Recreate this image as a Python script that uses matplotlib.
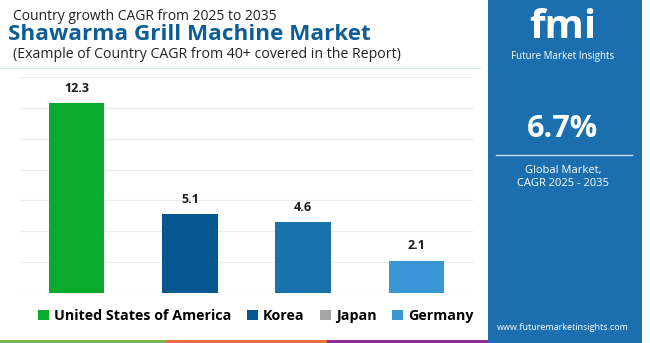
import matplotlib
matplotlib.use("Agg")
import matplotlib.pyplot as plt
from matplotlib.patches import Rectangle, Patch
from matplotlib.lines import Line2D

countries = ["United States of America", "Korea", "Japan", "Germany"]
cagr = [12.3, 5.1, 4.6, 2.1]
bar_colors = ["#0aaa2c", "#04588f", "#1a72ad", "#3a96d7"]
legend_colors = ["#0aaa2c", "#04588f", "#a6a6a6", "#3a96d7"]
global_cagr = "6.7%"
yticks = [0, 2, 4, 6, 8, 10, 12, 14]

FONT = "Open Sans"
plt.rcParams["font.family"] = [FONT, "DejaVu Sans"]

fig = plt.figure(figsize=(6.5, 3.43), dpi=100)
fig.patch.set_facecolor("white")

ax = fig.add_axes([20/650, 1-293/343, (473-20)/650, (293-77)/343])
x = list(range(len(countries)))
bars = ax.bar(x, cagr, width=0.49, color=bar_colors, zorder=3)
for xi, v in zip(x, cagr):
    ax.annotate(f"{v}", (xi, v), xytext=(0, 6), textcoords="offset points",
                ha="center", va="bottom", fontsize=9, fontweight="bold", color="#1a1a1a")
ax.set_xlim(-0.5, 3.5)
ax.set_ylim(0, 14)
ax.set_yticks(yticks)
ax.grid(axis="y", color="#ececec", linewidth=0.9, zorder=0)
ax.tick_params(left=False, bottom=False, labelleft=False, labelbottom=False)
for s in ax.spines.values():
    s.set_visible(False)

handles = [Patch(facecolor=c, edgecolor="none") for c in legend_colors]
fig.legend(handles, countries, loc="center", bbox_to_anchor=(256/650, 1-316/343),
           ncol=4, frameon=False, handlelength=0.75, handleheight=0.75,
           handletextpad=0.35, columnspacing=1.1,
           prop={"family": FONT, "weight": "bold", "size": 10.3})

# titles
fig.text(13/650, 1-16/343, "Country growth CAGR from 2025 to 2035", fontsize=10,
         color="#222222", va="center", ha="left")
fig.text(8/650, 1-34/343, "Shawarma Grill Machine Market", fontsize=16.2,
         fontweight="bold", color="#0d5d96", va="center", ha="left")
fig.text(13/650, 1-55/343, "(Example of Country CAGR from 40+ covered in the Report)",
         fontsize=10.2, color="#222222", va="center", ha="left")
fig.add_artist(Line2D([0, 480/650], [1-68/343, 1-68/343], color="#d6e4ee", linewidth=0.8))

# bottom stripes
for x0, x1, c in [(0, 166, "#7ab648"), (166, 327, "#e8703a"), (327, 490, "#8b2f8c")]:
    fig.add_artist(Rectangle((x0/650, 0), (x1-x0)/650, 3/343, color=c, lw=0))

# right panel
fig.add_artist(Rectangle((488/650, 0), (642-488)/650, 1, color="#1b6faf", lw=0))
cx = 563/650
fig.text(cx, 1-27/343, "fmi", fontsize=29, fontweight="bold", color="white",
         ha="center", va="center")
fig.text(cx, 1-56/343, "Future Market Insights", fontsize=7, color="white",
         ha="center", va="center")
fig.text(cx, 1-129/343, global_cagr, fontsize=22, fontweight="bold", color="white",
         ha="center", va="center")
fig.add_artist(Line2D([496/650, 632/650], [1-155/343, 1-155/343], color="#c9dcec", linewidth=1))
fig.text(cx, 1-171/343, "Global Market,", fontsize=8, color="white", ha="center", va="center")
fig.text(cx, 1-184/343, "CAGR 2025 - 2035", fontsize=8, color="white", ha="center", va="center")
fig.text(cx, 1-328/343, "www.futuremarketinsights.com", fontsize=6.5, color="white",
         ha="center", va="center")

fig.savefig("out.png", dpi=100)
